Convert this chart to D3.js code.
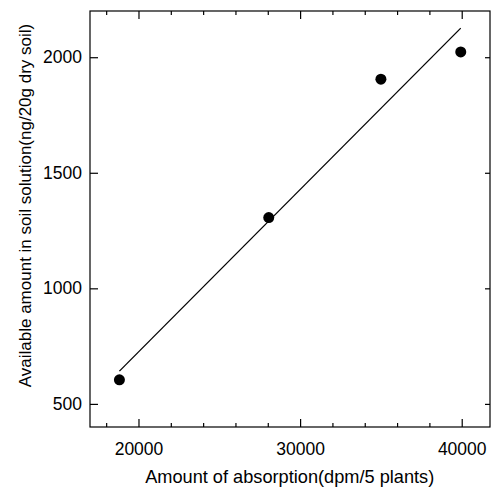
<!DOCTYPE html>
<html><head><meta charset="utf-8">
<script src="https://cdn.jsdelivr.net/npm/d3@7"></script>
<style>body{margin:0;background:#fff}svg{display:block}text{font-family:"Liberation Sans",Arial,sans-serif;fill:#000}</style>
</head><body><svg id="c" width="492" height="489"></svg>
<script>
const absorption = [18820, 28060, 35000, 39940];
const available = [604, 1306, 1905, 2023];
const xMajorTicks = [20000, 30000, 40000];
const xMinorTicks = [18000, 22000, 24000, 26000, 28000, 32000, 34000, 36000, 38000];
const yMajorTicks = [500, 1000, 1500, 2000];
const xTitle = "Amount of absorption(dpm/5 plants)";
const yTitle = "Available amount in soil solution(ng/20g dry soil)";

const svg = d3.select("#c");
const L = 90, R = 490, T = 11, B = 427;
const x = d3.scaleLinear().domain([17000, 41750]).range([L, R]);
const y = d3.scaleLinear().domain([400, 2200]).range([B, T]);

// frame
svg.append("rect").attr("x", L).attr("y", T).attr("width", R - L).attr("height", B - T)
  .attr("fill", "none").attr("stroke", "#000").attr("stroke-width", 1.2);

// axes with inward ticks
const fmt = d3.format("d");
const gB = svg.append("g").attr("transform", `translate(0,${B})`)
  .call(d3.axisBottom(x).tickValues(xMajorTicks).tickFormat(fmt).tickSizeInner(-8).tickSizeOuter(0).tickPadding(15.5));
const gBm = svg.append("g").attr("transform", `translate(0,${B})`)
  .call(d3.axisBottom(x).tickValues(xMinorTicks).tickFormat("").tickSizeInner(-4).tickSizeOuter(0));
const gT = svg.append("g").attr("transform", `translate(0,${T})`)
  .call(d3.axisTop(x).tickValues(xMajorTicks).tickFormat("").tickSizeInner(-8).tickSizeOuter(0));
const gTm = svg.append("g").attr("transform", `translate(0,${T})`)
  .call(d3.axisTop(x).tickValues(xMinorTicks).tickFormat("").tickSizeInner(-4).tickSizeOuter(0));
const gL = svg.append("g").attr("transform", `translate(${L},0)`)
  .call(d3.axisLeft(y).tickValues(yMajorTicks).tickFormat(fmt).tickSizeInner(-8).tickSizeOuter(0).tickPadding(8));
const gR = svg.append("g").attr("transform", `translate(${R},0)`)
  .call(d3.axisRight(y).tickValues(yMajorTicks).tickFormat("").tickSizeInner(-5).tickSizeOuter(0));

[gB, gBm, gT, gTm, gL, gR].forEach(g => {
  g.select(".domain").remove();
  g.selectAll("line").attr("stroke", "#000").attr("stroke-width", 1.2);
  g.selectAll("text").style("font-size", "17.5px").attr("font-family", null);
});

// regression line
const n = absorption.length;
const mx = d3.mean(absorption), my = d3.mean(available);
let sxy = 0, sxx = 0;
for (let i = 0; i < n; i++) { sxy += (absorption[i] - mx) * (available[i] - my); sxx += (absorption[i] - mx) ** 2; }
const slope = sxy / sxx, icpt = my - slope * mx;
const [x0, x1] = d3.extent(absorption);
svg.append("line")
  .attr("x1", x(x0)).attr("y1", y(icpt + slope * x0))
  .attr("x2", x(x1)).attr("y2", y(icpt + slope * x1))
  .attr("stroke", "#000").attr("stroke-width", 1.3);

// points
svg.selectAll("circle.pt").data(absorption).join("circle").attr("class", "pt")
  .attr("cx", d => x(d)).attr("cy", (d, i) => y(available[i])).attr("r", 5.5).attr("fill", "#000");

// titles
svg.append("text").attr("x", 289.7).attr("y", 483).attr("text-anchor", "middle")
  .style("font-size", "18.2px").text(xTitle);
svg.append("text").attr("transform", `translate(30.5,205.5) rotate(-90)`).attr("text-anchor", "middle")
  .style("font-size", "17px").text(yTitle);
</script></body></html>
